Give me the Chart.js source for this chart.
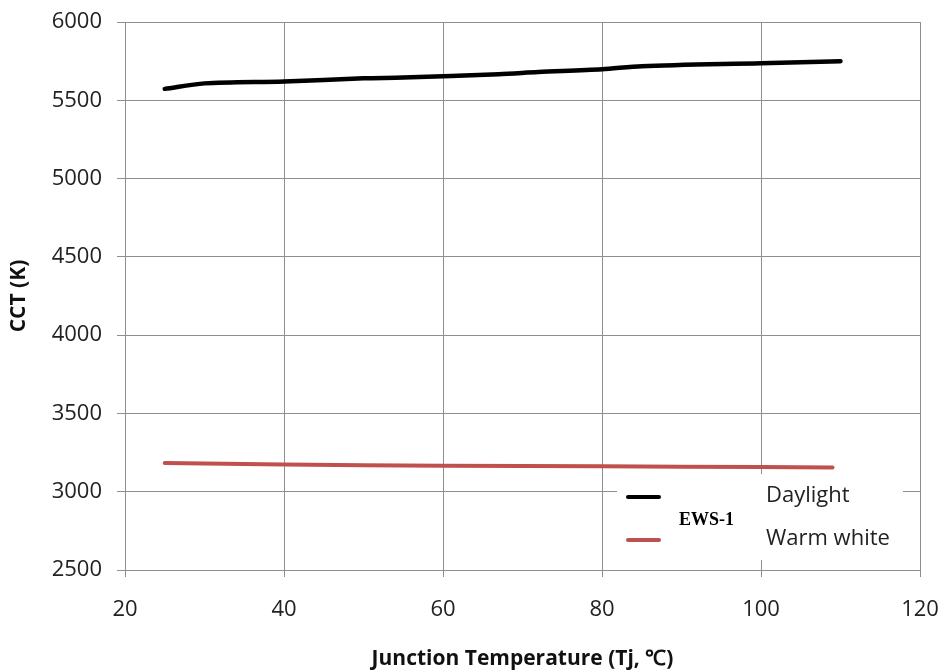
<!DOCTYPE html>
<html>
<head>
<meta charset="utf-8">
<title>CCT vs Junction Temperature</title>
<script src="https://cdn.jsdelivr.net/npm/chart.js@4.4.1/dist/chart.umd.min.js"></script>
<style>
  html, body { margin: 0; padding: 0; background: #fff; }
  #wrap { width: 943px; height: 672px; }
</style>
</head>
<body>
<div id="wrap"><canvas id="cctChart" width="943" height="672"></canvas></div>
<script>
// Junction temperature (deg C) and measured CCT (K) for each LED type
const daylightTemp = [25, 30, 40, 50, 55, 67, 72, 80, 85, 100, 110];
const daylightCct  = [5573, 5608, 5620, 5640, 5645, 5667, 5680, 5698, 5718, 5737, 5750];

const warmTemp = [25, 40, 60, 80, 100, 109];
const warmCct  = [3183, 3174, 3166, 3162, 3158, 3155];

const seriesLabels = ['Daylight', 'Warm white'];
const seriesColors = ['#000000', '#c0504d'];
const legendTitle = 'EWS-1';

const xTicks = [20, 40, 60, 80, 100, 120];
const yTicks = [2500, 3000, 3500, 4000, 4500, 5000, 5500, 6000];

const FONT = '"Open Sans", Lato, sans-serif';
const GRID = '#8e8e8e';

const toPoints = (xs, ys) => xs.map((x, i) => ({ x, y: ys[i] }));

// Boxed legend sitting over the lower right gridlines
const boxLegend = {
    id: 'boxLegend',
    beforeDatasetsDraw(chart) {
        const ctx = chart.ctx;
        const box = { x: 617, y: 474, w: 286, h: 86 };
        ctx.save();
        ctx.fillStyle = '#ffffff';
        ctx.fillRect(box.x, box.y, box.w, box.h);

        chart.data.datasets.forEach((ds, i) => {
            const cy = 497 + i * 43;
            ctx.strokeStyle = ds.borderColor;
            ctx.lineWidth = 4;
            ctx.lineCap = 'round';
            ctx.beginPath();
            ctx.moveTo(628, cy);
            ctx.lineTo(659, cy);
            ctx.stroke();

            ctx.fillStyle = '#222';
            ctx.font = '22px ' + FONT;
            ctx.textAlign = 'left';
            ctx.textBaseline = 'middle';
            ctx.fillText(ds.label, 766, cy - 1);
        });

        ctx.fillStyle = '#000';
        ctx.font = 'bold 18px "Liberation Serif", "Times New Roman", serif';
        ctx.textAlign = 'left';
        ctx.textBaseline = 'middle';
        ctx.fillText(legendTitle, 679, 520);
        ctx.restore();
    }
};

new Chart(document.getElementById('cctChart'), {
    type: 'line',
    data: {
        datasets: [
            {
                label: seriesLabels[0],
                data: toPoints(daylightTemp, daylightCct),
                borderColor: seriesColors[0],
                borderWidth: 4.5,
                borderCapStyle: 'round',
                pointRadius: 0,
                tension: 0.3,
                fill: false
            },
            {
                label: seriesLabels[1],
                data: toPoints(warmTemp, warmCct),
                borderColor: seriesColors[1],
                borderWidth: 4,
                borderCapStyle: 'round',
                pointRadius: 0,
                tension: 0.3,
                fill: false
            }
        ]
    },
    options: {
        responsive: false,
        animation: false,
        layout: { padding: { top: 22, right: 23, left: 0, bottom: 0 } },
        plugins: {
            legend: { display: false },
            tooltip: { enabled: false }
        },
        scales: {
            x: {
                type: 'linear',
                min: xTicks[0],
                max: xTicks[xTicks.length - 1],
                afterBuildTicks: s => { s.ticks = xTicks.map(v => ({ value: v })); },
                afterFit: s => {
                    s.height = 102;
                    s.paddingLeft = 0;
                    s.paddingRight = 0;
                },
                border: { color: GRID, width: 1 },
                grid: { color: GRID, tickLength: 7, drawTicks: true },
                ticks: {
                    color: '#222', font: { family: FONT, size: 22 }, padding: 20, maxRotation: 0,
                    callback: v => String(v)
                },
                title: {
                    display: true,
                    text: 'Junction Temperature (Tj, ℃)',
                    color: '#111',
                    font: { family: FONT, size: 21, weight: 'bold' },
                    padding: { top: 0, bottom: 0 }
                }
            },
            y: {
                min: yTicks[0],
                max: yTicks[yTicks.length - 1],
                afterBuildTicks: s => { s.ticks = yTicks.map(v => ({ value: v })); },
                afterFit: s => {
                    s.width = 125;
                    s.paddingTop = 0;
                    s.paddingBottom = 0;
                },
                border: { color: GRID, width: 1 },
                grid: { color: GRID, tickLength: 8, drawTicks: true },
                ticks: {
                    color: '#222', font: { family: FONT, size: 22 }, padding: 15,
                    callback: v => String(v)
                },
                title: {
                    display: true,
                    text: 'CCT (K)',
                    color: '#111',
                    font: { family: FONT, size: 21, weight: 'bold' },
                    padding: { top: 6, bottom: 0 }
                }
            }
        }
    },
    plugins: [boxLegend]
});
</script>
</body>
</html>
